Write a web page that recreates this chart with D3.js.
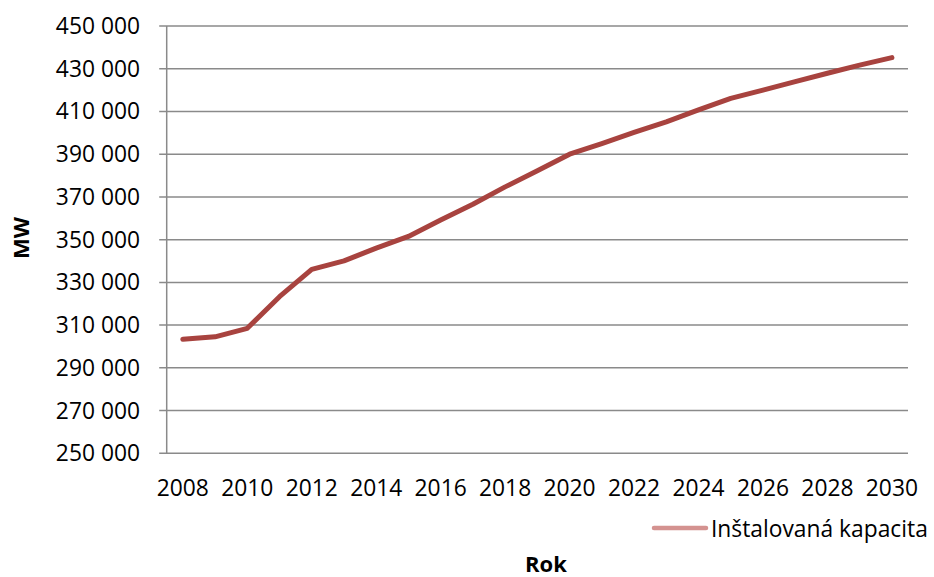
<!DOCTYPE html>
<html>
<head>
<meta charset="utf-8">
<script src="https://cdn.jsdelivr.net/npm/d3@7"></script>
<style>
  html, body { margin: 0; padding: 0; background: #fff; }
  svg { display: block; font-family: "Open Sans", "Noto Sans", sans-serif; }
</style>
</head>
<body>
<svg id="chart" width="934" height="577"></svg>
<script>
// Installed capacity by year (MW)
const years = d3.range(2008, 2031).map(String);
const capacity = [
  303400, 304500, 308500, 323300, 336100, 340100, 346000, 351500, 359200,
  366600, 374700, 382200, 390000, 395000, 400200, 405100, 410700, 416100,
  420000, 424000, 427900, 431700, 435200
];
const yTicks = d3.range(250000, 450001, 20000);
const seriesName = "Inštalovaná kapacita";
const xTitle = "Rok";
const yTitle = "MW";

const svg = d3.select("#chart");
const margin = { left: 166.7, right: 908, top: 26, bottom: 453.3 };

const x = d3.scaleBand().domain(years).range([margin.left, margin.right]);
const y = d3.scaleLinear().domain([250000, 450000]).range([margin.bottom, margin.top]);

const fmt = v => d3.format(",")(v).replace(/,/g, " ");
const fs = 22.8;

// horizontal gridlines with left tick marks
svg.append("g")
  .selectAll("line")
  .data(yTicks)
  .join("line")
  .attr("x1", margin.left - 7.5)
  .attr("x2", margin.right)
  .attr("y1", d => y(d))
  .attr("y2", d => y(d))
  .attr("stroke", "#8a8a8a")
  .attr("stroke-width", 1.5);

// y axis line
svg.append("line")
  .attr("x1", margin.left).attr("x2", margin.left)
  .attr("y1", margin.top).attr("y2", margin.bottom)
  .attr("stroke", "#8a8a8a").attr("stroke-width", 1.5);

// y tick labels
svg.append("g")
  .selectAll("text")
  .data(yTicks)
  .join("text")
  .attr("x", 140)
  .attr("y", d => y(d))
  .attr("dy", "0.35em")
  .attr("text-anchor", "end")
  .attr("font-size", fs)
  .attr("fill", "#000")
  .text(fmt);

// x tick labels, every second year
svg.append("g")
  .selectAll("text")
  .data(years.filter((d, i) => i % 2 === 0))
  .join("text")
  .attr("x", d => x(d) + x.bandwidth() / 2)
  .attr("y", 496)
  .attr("text-anchor", "middle")
  .attr("font-size", fs)
  .attr("fill", "#000")
  .text(d => d);

// series line
const line = d3.line()
  .x((d, i) => x(years[i]) + x.bandwidth() / 2)
  .y(d => y(d));

svg.append("path")
  .datum(capacity)
  .attr("d", line)
  .attr("fill", "none")
  .attr("stroke", "#A8433F")
  .attr("stroke-width", 5)
  .attr("stroke-linejoin", "round")
  .attr("stroke-linecap", "round");

// legend
svg.append("line")
  .attr("x1", 654).attr("x2", 706)
  .attr("y1", 528).attr("y2", 528)
  .attr("stroke", "#D49290")
  .attr("stroke-width", 4.5)
  .attr("stroke-linecap", "round");
svg.append("text")
  .attr("x", 711)
  .attr("y", 536.5)
  .attr("font-size", fs)
  .attr("fill", "#000")
  .text(seriesName);

// axis titles
svg.append("text")
  .attr("x", 546)
  .attr("y", 572)
  .attr("text-anchor", "middle")
  .attr("font-size", 22)
  .attr("font-weight", "bold")
  .text(xTitle);

svg.append("text")
  .attr("transform", "translate(29,238) rotate(-90)")
  .attr("text-anchor", "middle")
  .attr("font-size", 22)
  .attr("font-weight", "bold")
  .text(yTitle);
</script>
</body>
</html>
